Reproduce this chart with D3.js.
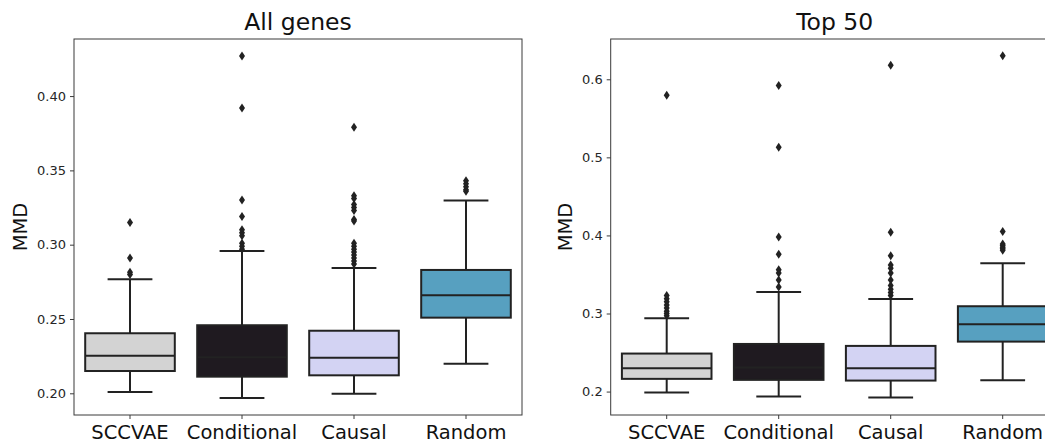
<!DOCTYPE html>
<html>
<head>
<meta charset="utf-8">
<script src="https://cdn.jsdelivr.net/npm/d3@7"></script>
<style>
  body { margin: 0; background: #fff; }
  svg { display: block; font-family: "DejaVu Sans", sans-serif; }
</style>
</head>
<body>
<svg id="chart"></svg>
<script>
const categories = ["SCCVAE", "Conditional", "Causal", "Random"];
const boxColors = ["#d3d3d3", "#1f1a20", "#d3d3f3", "#57a0c0"];

// All genes panel
const allLow = [0.2009, 0.1968, 0.1997, 0.2199];
const allQ1 = [0.2150, 0.2112, 0.2121, 0.2509];
const allMedian = [0.2253, 0.2242, 0.2240, 0.2659];
const allQ3 = [0.2404, 0.2458, 0.2421, 0.2830];
const allHigh = [0.2767, 0.2958, 0.2843, 0.3297];
const allOutliers = [
    [0.315, 0.291, 0.2815, 0.2800],
    [0.427, 0.392, 0.330, 0.319, 0.310, 0.308, 0.306, 0.301, 0.299, 0.297],
    [0.379, 0.333, 0.331, 0.327, 0.325, 0.323, 0.317, 0.316, 0.301, 0.299, 0.297, 0.295, 0.293, 0.291, 0.289, 0.287],
    [0.343, 0.341, 0.339, 0.337, 0.336]
];
const allTicks = [0.20, 0.25, 0.30, 0.35, 0.40];

// Top 50 panel
const topLow = [0.1987, 0.1936, 0.1923, 0.2146];
const topQ1 = [0.2163, 0.2150, 0.2141, 0.2640];
const topMedian = [0.2300, 0.2307, 0.2300, 0.2863];
const topQ3 = [0.2487, 0.2610, 0.2585, 0.3093];
const topHigh = [0.2940, 0.3277, 0.3187, 0.3644];
const topOutliers = [
    [0.5795, 0.323, 0.319, 0.315, 0.311, 0.307, 0.303, 0.300, 0.297],
    [0.592, 0.513, 0.398, 0.376, 0.356, 0.352, 0.343, 0.334],
    [0.618, 0.404, 0.374, 0.362, 0.358, 0.352, 0.343, 0.336, 0.331, 0.327, 0.323],
    [0.630, 0.405, 0.389, 0.387, 0.385, 0.383, 0.381]
];
const topTicks = [0.2, 0.3, 0.4, 0.5, 0.6];

const svg = d3.select("#chart"),
    width = 1045,
    height = 444;
svg.attr("width", width).attr("height", height);

const drawPanel = function(opts) {
    const x = d3.scaleBand()
        .domain(categories)
        .range([opts.left, opts.left + 448])
        .paddingInner(0).paddingOuter(0);
    const y = d3.scaleLinear()
        .domain(opts.domain)
        .range([415, 39]);
    const bw = x.bandwidth() * 0.8;

    const g = svg.append("g");

    // frame
    g.append("rect")
        .attr("x", opts.left)
        .attr("y", 39)
        .attr("width", 448)
        .attr("height", 376)
        .attr("fill", "none")
        .attr("stroke", "#3a3a3a")
        .attr("stroke-width", 1);

    const yAxis = g.append("g")
        .attr("transform", "translate(" + opts.left + ",0)")
        .call(d3.axisLeft(y).tickValues(opts.ticks).tickFormat(d3.format(opts.fmt)).tickSize(4).tickPadding(4));
    yAxis.select(".domain").remove();
    yAxis.selectAll("line").attr("stroke", "#3a3a3a");
    yAxis.selectAll("text").attr("font-size", 13).attr("fill", "#262626")
        .attr("font-family", "DejaVu Sans");

    const xAxis = g.append("g")
        .attr("transform", "translate(0,415)")
        .call(d3.axisBottom(x).tickSize(4).tickPadding(6));
    xAxis.select(".domain").remove();
    xAxis.selectAll("line").attr("stroke", "#3a3a3a");
    xAxis.selectAll("text").attr("font-size", 19.5).attr("fill", "#111")
        .attr("font-family", "DejaVu Sans");

    g.append("text")
        .attr("transform", "translate(" + opts.labelX + ",227) rotate(-90)")
        .attr("text-anchor", "middle")
        .attr("font-size", 19.5)
        .attr("fill", "#111")
        .text("MMD");

    g.append("text")
        .attr("x", opts.left + 224)
        .attr("y", 30)
        .attr("text-anchor", "middle")
        .attr("font-size", 23.5)
        .attr("fill", "#111")
        .text(opts.title);

    const boxes = g.selectAll(".box")
        .data(categories)
        .enter().append("g")
        .attr("class", "box");

    const cx = function(d) { return x(d) + x.bandwidth() / 2; };
    const line = "#222";

    // whiskers
    boxes.append("line")
        .attr("x1", cx).attr("x2", cx)
        .attr("y1", function(d, i) { return y(opts.q3[i]); })
        .attr("y2", function(d, i) { return y(opts.high[i]); })
        .attr("stroke", line).attr("stroke-width", 2);
    boxes.append("line")
        .attr("x1", cx).attr("x2", cx)
        .attr("y1", function(d, i) { return y(opts.q1[i]); })
        .attr("y2", function(d, i) { return y(opts.low[i]); })
        .attr("stroke", line).attr("stroke-width", 2);
    // caps
    [opts.high, opts.low].forEach(function(arr) {
        boxes.append("line")
            .attr("x1", function(d) { return cx(d) - bw / 4; })
            .attr("x2", function(d) { return cx(d) + bw / 4; })
            .attr("y1", function(d, i) { return y(arr[i]); })
            .attr("y2", function(d, i) { return y(arr[i]); })
            .attr("stroke", line).attr("stroke-width", 2);
    });

    boxes.append("rect")
        .attr("x", function(d) { return cx(d) - bw / 2; })
        .attr("y", function(d, i) { return y(opts.q3[i]); })
        .attr("width", bw)
        .attr("height", function(d, i) { return y(opts.q1[i]) - y(opts.q3[i]); })
        .attr("fill", function(d, i) { return boxColors[i]; })
        .attr("stroke", line)
        .attr("stroke-width", 2);

    boxes.append("line")
        .attr("x1", function(d) { return cx(d) - bw / 2; })
        .attr("x2", function(d) { return cx(d) + bw / 2; })
        .attr("y1", function(d, i) { return y(opts.median[i]); })
        .attr("y2", function(d, i) { return y(opts.median[i]); })
        .attr("stroke", line).attr("stroke-width", 2);

    // outliers as thin diamonds
    boxes.each(function(d, i) {
        d3.select(this).selectAll("path.out")
            .data(opts.outliers[i])
            .enter().append("path")
            .attr("class", "out")
            .attr("d", "M0,-4.5L3,0L0,4.5L-3,0Z")
            .attr("transform", function(v) { return "translate(" + cx(d) + "," + y(v) + ")"; })
            .attr("fill", line);
    });
};

drawPanel({
    left: 74, domain: [0.1854, 0.4384], ticks: allTicks, fmt: ".2f", labelX: 26.5, title: "All genes",
    low: allLow, q1: allQ1, median: allMedian, q3: allQ3, high: allHigh, outliers: allOutliers
});
drawPanel({
    left: 610.7, domain: [0.170, 0.6516], ticks: topTicks, fmt: ".1f", labelX: 572, title: "Top 50",
    low: topLow, q1: topQ1, median: topMedian, q3: topQ3, high: topHigh, outliers: topOutliers
});
</script>
</body>
</html>
